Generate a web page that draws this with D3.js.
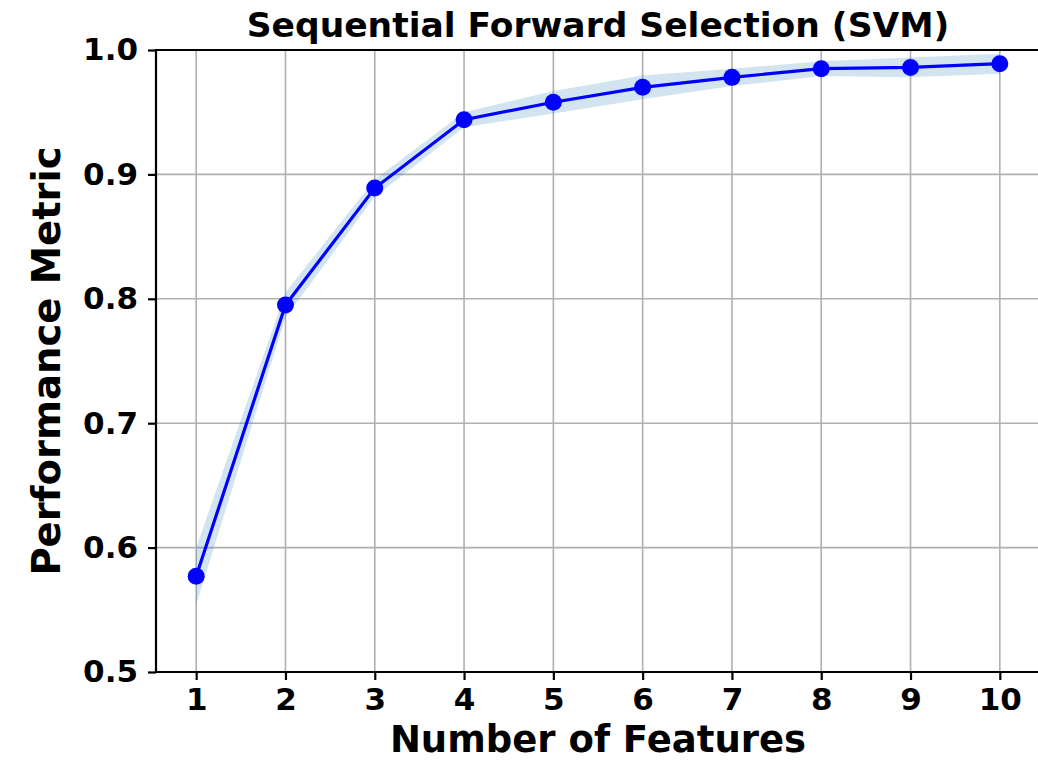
<!DOCTYPE html>
<html>
<head>
<meta charset="utf-8">
<script src="https://cdn.jsdelivr.net/npm/d3@7"></script>
<style>
  body { margin: 0; background: #fff; }
  svg { display: block; }
  text { font-family: "DejaVu Sans", sans-serif; font-weight: bold; }
</style>
</head>
<body>
<svg id="chart" width="1038" height="761"></svg>
<script>
const features = [1, 2, 3, 4, 5, 6, 7, 8, 9, 10];
const meanScore = [0.577, 0.795, 0.889, 0.944, 0.958, 0.970, 0.978, 0.985, 0.986, 0.989];
const stdScore = [0.023, 0.010, 0.007, 0.006, 0.009, 0.0095, 0.007, 0.006, 0.008, 0.008];
const xTicks = [1, 2, 3, 4, 5, 6, 7, 8, 9, 10];
const yTicks = [0.5, 0.6, 0.7, 0.8, 0.9, 1.0];
const titleText = "Sequential Forward Selection (SVM)";
const xLabel = "Number of Features";
const yLabel = "Performance Metric";

(function () {
const svg = d3.select("#chart");
const pL = 156, pR = 1040, pT = 50, pB = 672;

const x = d3.scaleLinear().domain([0.55, 10.45]).range([pL, pR]);
const y = d3.scaleLinear().domain([0.5, 1.0]).range([pB, pT]);

const defs = svg.append("defs");
defs.append("clipPath").attr("id", "clip")
  .append("rect").attr("x", pL).attr("y", pT).attr("width", pR - pL).attr("height", pB - pT);

// grid
const grid = svg.append("g");
grid.selectAll(".vg").data(xTicks).join("line")
  .attr("x1", d => x(d)).attr("x2", d => x(d))
  .attr("y1", pT).attr("y2", pB)
  .attr("stroke", "#b0b0b0").attr("stroke-width", 1.6);
grid.selectAll(".hg").data(yTicks).join("line")
  .attr("x1", pL).attr("x2", pR)
  .attr("y1", d => y(d)).attr("y2", d => y(d))
  .attr("stroke", "#b0b0b0").attr("stroke-width", 1.6);

const data = features.map((f, i) => ({ f, m: meanScore[i], s: stdScore[i] }));

// band
const area = d3.area()
  .x(d => x(d.f))
  .y0(d => y(d.m - d.s))
  .y1(d => y(d.m + d.s));
svg.append("path").datum(data)
  .attr("clip-path", "url(#clip)")
  .attr("d", area)
  .attr("fill", "#1f77b4").attr("fill-opacity", 0.2);

// line
const line = d3.line().x(d => x(d.f)).y(d => y(d.m));
svg.append("path").datum(data)
  .attr("d", line)
  .attr("fill", "none").attr("stroke", "#0000ff").attr("stroke-width", 3.2);

svg.selectAll(".pt").data(data).join("circle")
  .attr("cx", d => x(d.f)).attr("cy", d => y(d.m)).attr("r", 8.5)
  .attr("fill", "#0000ff");

// axes
const xAxis = svg.append("g").attr("transform", `translate(0,${pB})`)
  .call(d3.axisBottom(x).tickValues(xTicks).tickSize(8).tickPadding(8).tickFormat(d3.format("d")));
const yAxis = svg.append("g").attr("transform", `translate(${pL},0)`)
  .call(d3.axisLeft(y).tickValues(yTicks).tickSize(8).tickPadding(10).tickFormat(d3.format(".1f")));
[xAxis, yAxis].forEach(a => {
  a.select(".domain").remove();
  a.selectAll(".tick line").attr("stroke", "#000").attr("stroke-width", 2.2);
  a.selectAll(".tick text").attr("fill", "#000").style("font-size", "31px")
    .style("font-family", '"DejaVu Sans", sans-serif').style("font-weight", "bold");
});

// spines
svg.append("line").attr("x1", pL).attr("x2", pL).attr("y1", pT - 1).attr("y2", pB + 1)
  .attr("stroke", "#000").attr("stroke-width", 2.2);
svg.append("line").attr("x1", pL - 1).attr("x2", pR).attr("y1", pB).attr("y2", pB)
  .attr("stroke", "#000").attr("stroke-width", 2.2);
svg.append("line").attr("x1", pL - 1).attr("x2", pR).attr("y1", pT).attr("y2", pT)
  .attr("stroke", "#000").attr("stroke-width", 2.2);

// labels
svg.append("text").attr("x", (pL + pR) / 2).attr("y", 37)
  .attr("text-anchor", "middle").style("font-size", "34.5px").text(titleText);
svg.append("text").attr("x", (pL + pR) / 2).attr("y", 752)
  .attr("text-anchor", "middle").style("font-size", "37px").text(xLabel);
svg.append("text").attr("transform", `translate(60,${(pT + pB) / 2}) rotate(-90)`)
  .attr("text-anchor", "middle").style("font-size", "38.5px").text(yLabel);
})();
</script>
</body>
</html>
